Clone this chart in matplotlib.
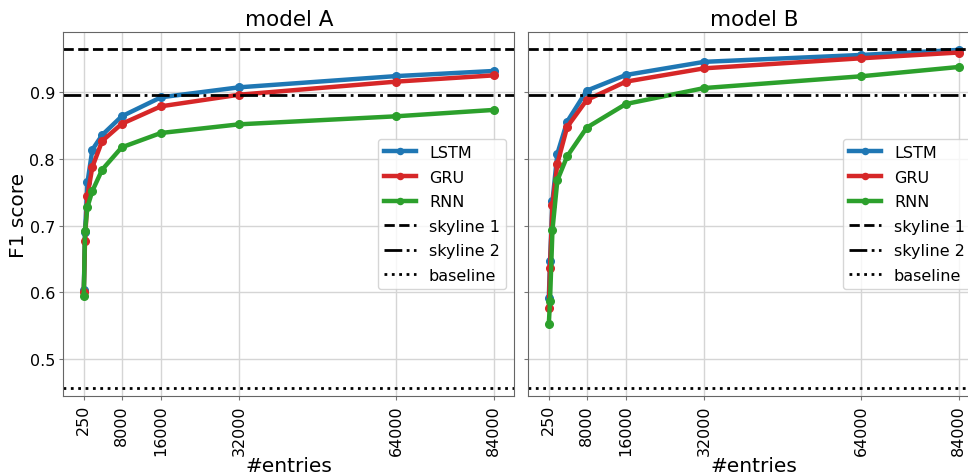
import matplotlib
matplotlib.use("Agg")
import matplotlib.pyplot as plt

entries = [250, 500, 1000, 2000, 4000, 8000, 16000, 32000, 64000, 84000]
tick_values = [250, 8000, 16000, 32000, 64000, 84000]

a_lstm = [0.603, 0.690, 0.765, 0.814, 0.836, 0.864, 0.8925, 0.9075, 0.9243, 0.932]
a_gru = [0.601, 0.677, 0.745, 0.788, 0.827, 0.8527, 0.879, 0.8964, 0.916, 0.9254]
a_rnn = [0.594, 0.692, 0.728, 0.752, 0.784, 0.8175, 0.839, 0.852, 0.864, 0.8736]

b_lstm = [0.5915, 0.6465, 0.737, 0.808, 0.856, 0.9025, 0.926, 0.9457, 0.956, 0.9636]
b_gru = [0.577, 0.637, 0.731, 0.793, 0.848, 0.8885, 0.916, 0.936, 0.951, 0.9597]
b_rnn = [0.552, 0.5875, 0.694, 0.768, 0.804, 0.847, 0.8825, 0.9064, 0.924, 0.938]

skyline1 = 0.9646
skyline2 = 0.8964
baseline = 0.456

fig = plt.figure(figsize=(9.68, 4.77), dpi=100)
W, H = 968, 477
ax1 = fig.add_axes([63.3 / W, 1 - 396.7 / H, 451 / W, (396.7 - 33.3) / H])
ax2 = fig.add_axes([528.3 / W, 1 - 396.7 / H, 451 / W, (396.7 - 33.3) / H], sharey=ax1)

panels = [(ax1, "model A", a_lstm, a_gru, a_rnn), (ax2, "model B", b_lstm, b_gru, b_rnn)]
for ax, title, lstm, gru, rnn in panels:
    ax.plot(entries, lstm, "-o", color="tab:blue", lw=3.2, ms=5.5, label="LSTM")
    ax.plot(entries, gru, "-o", color="tab:red", lw=3.2, ms=5.5, label="GRU")
    ax.plot(entries, rnn, "-o", color="tab:green", lw=3.2, ms=5.5, label="RNN")
    ax.axhline(skyline1, color="black", ls="--", lw=2, label="skyline 1")
    ax.axhline(skyline2, color="black", ls="-.", lw=2, label="skyline 2")
    ax.axhline(baseline, color="black", ls=":", lw=2, label="baseline")
    ax.set_title(title, fontsize=15.5, pad=5)
    ax.set_xlabel("#entries", fontsize=14.5, labelpad=1)
    ax.set_xticks(tick_values)
    ax.set_xticklabels([str(v) for v in tick_values], rotation=90, fontsize=11.5)
    ax.tick_params(axis="y", labelsize=11.5)
    ax.tick_params(colors="#777777", which="both", labelcolor="black", length=3, pad=3)
    ax.grid(True, color="#d5d5d5", lw=1)
    ax.set_axisbelow(True)
    for s in ax.spines.values():
        s.set_color("#666666")
    ax.legend(loc="center right", fontsize=11.5, framealpha=0.8, labelspacing=0.6,
              markerscale=0.8)

ax1.set_ylim(0.445, 0.99)
ax1.set_yticks([0.5, 0.6, 0.7, 0.8, 0.9])
ax1.set_ylabel("F1 score", fontsize=14.5, labelpad=1)
plt.setp(ax2.get_yticklabels(), visible=False)

fig.savefig("out.png", dpi=100)
